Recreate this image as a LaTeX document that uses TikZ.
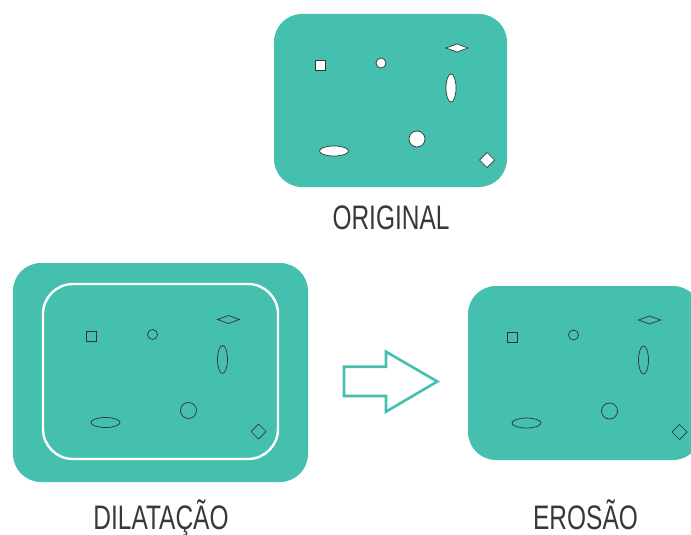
\documentclass[tikz,border=0pt]{standalone}
\usepackage{fontspec}
\setmainfont[FakeStretch=0.72]{Liberation Sans}
\begin{document}
\begin{tikzpicture}[x=1pt,y=-1pt,
  teal/.style={fill=tealc,draw=none,rounded corners=28pt},
  blob/.style={draw=black!80,line width=0.7pt},
  label/.style={font=\fontsize{34}{36}\selectfont,text=black!78,inner sep=0pt,anchor=base}]
\definecolor{tealc}{RGB}{69,191,174}
\useasboundingbox (0,0) rectangle (691,535);
\newcommand\blobset[2]{%
  \begin{scope}[shift={(#1)}]
    \draw[blob,#2] (41,46) rectangle (51,56);
    \draw[blob,#2] (107,49) circle[radius=5];
    \draw[blob,#2] (172,34) -- (183,30) -- (194,34) -- (183,38) -- cycle;
    \draw[blob,#2] (177,74) ellipse[x radius=5,y radius=14];
    \draw[blob,#2] (143,125) circle[radius=8];
    \draw[blob,#2] (60,137) ellipse[x radius=14.5,y radius=5];
    \draw[blob,#2] (205.5,146) -- (213,138.5) -- (220.5,146) -- (213,153.5) -- cycle;
  \end{scope}}
% original
\fill[teal] (274,14) rectangle (507,187);
\blobset{274,14}{fill=white}
\node[label] (orig) at (391,229) {ORIGINAL};
% dilatation
\fill[teal] (13,263) rectangle (308,482);
\draw[white,line width=2.4pt,rounded corners=30pt] (43,284) rectangle (278,459);
\blobset{45.5,285.5}{}
\node[label] (dil) at (161,529) {DILATAÇÃO};
% erosion
\fill[teal] (468,286) rectangle (701,460);
\blobset{466.5,286}{}
\node[label] (ero) at (585.5,529) {EROSÃO};
% arrow
\draw[tealc,line width=2.6pt,line join=miter] (344,366.7) -- (386,366.7) -- (386,351.7) -- (437.3,381.5) -- (386,411.7) -- (386,396) -- (344,396) -- cycle;
\end{tikzpicture}
\end{document}
